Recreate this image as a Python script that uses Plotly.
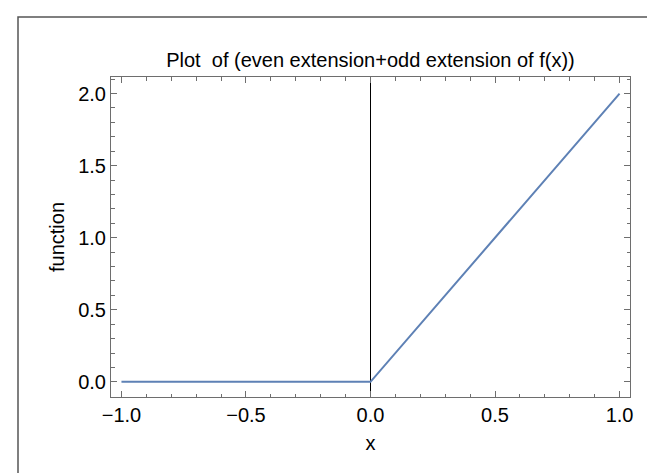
import plotly.graph_objects as go

# Data: even extension + odd extension of f(x)
x_vals = [-1.0, 0.0, 1.0]
y_vals = [0.0, 0.0, 2.0]

x_ticks = [-1.0, -0.5, 0.0, 0.5, 1.0]
x_tick_labels = ["\u22121.0", "\u22120.5", "0.0", "0.5", "1.0"]
y_ticks = [0.0, 0.5, 1.0, 1.5, 2.0]
y_tick_labels = ["0.0", "0.5", "1.0", "1.5", "2.0"]

FONT = "Liberation Sans, Arial, sans-serif"
FRAME = "#6e6e6e"
FS = 20

fig = go.Figure()
fig.add_trace(go.Scatter(
    x=x_vals, y=y_vals, mode="lines",
    line=dict(color="#5E81B5", width=2),
    hoverinfo="skip", showlegend=False,
))

L, R, T, B = 103, 33, 69, 84
W, H = 655, 473
pw, ph = W - L - R, H - T - B

fig.update_layout(
    width=W, height=H,
    margin=dict(l=L, r=R, t=T, b=B, pad=0),
    paper_bgcolor="white", plot_bgcolor="white",
    font=dict(family=FONT, size=FS, color="black"),
    title=dict(
        text="Plot  of (even extension+odd extension of f(x))",
        x=(L + pw / 2) / W, xanchor="center",
        y=1 - 52 / H, yanchor="middle",
        font=dict(family=FONT, size=FS, color="black"),
    ),
    xaxis=dict(
        range=[-1.042, 1.042],
        tickmode="array", tickvals=x_ticks, ticktext=x_tick_labels,
        ticks="inside", ticklen=6, tickwidth=1, tickcolor=FRAME,
        minor=dict(dtick=0.1, tick0=0, ticks="inside", ticklen=3.5, tickwidth=1, tickcolor=FRAME),
        showline=True, linecolor=FRAME, linewidth=1, mirror="ticks",
        showgrid=False,
        zeroline=True, zerolinecolor="black", zerolinewidth=1,
        tickfont=dict(family=FONT, size=FS, color="black"),
        title=dict(text="x", font=dict(family=FONT, size=FS, color="black"), standoff=10),
    ),
    yaxis=dict(
        range=[-0.105, 2.115],
        tickmode="array", tickvals=y_ticks, ticktext=y_tick_labels,
        ticks="inside", ticklen=6, tickwidth=1, tickcolor=FRAME,
        minor=dict(dtick=0.1, tick0=0, ticks="inside", ticklen=3.5, tickwidth=1, tickcolor=FRAME),
        showline=True, linecolor=FRAME, linewidth=1, mirror="ticks",
        showgrid=False, zeroline=False,
        tickfont=dict(family=FONT, size=FS, color="black"),
        title=dict(text="function", font=dict(family=FONT, size=FS, color="black"), standoff=8),
    ),
    shapes=[dict(
        type="rect", xref="paper", yref="paper",
        x0=(10 - L) / pw, x1=2.0,
        y0=-2.0, y1=(H - B - 9) / ph,
        line=dict(color="#555555", width=1.5), fillcolor="rgba(0,0,0,0)",
        layer="below",
    )],
)

fig.write_html("out.html")
